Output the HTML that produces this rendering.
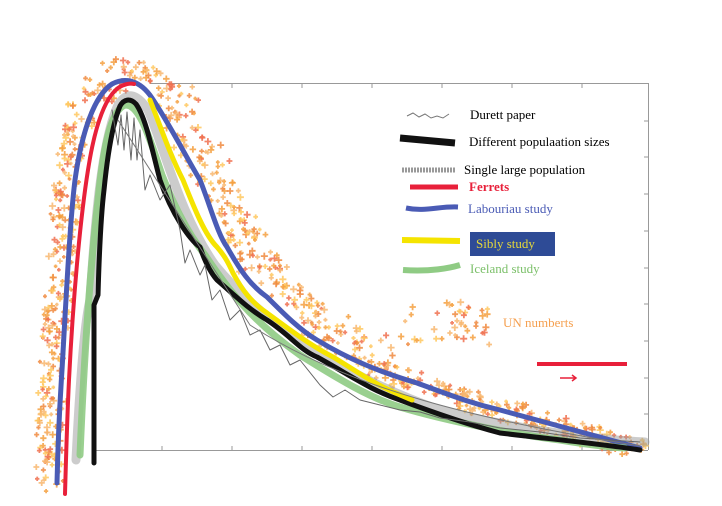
<!DOCTYPE html>
<html><head><meta charset="utf-8"><style>
body{margin:0;background:#fff;}
svg{display:block}
text{font-family:"Liberation Serif",serif;font-size:13px}
</style></head><body>
<svg id="s" width="722" height="506" viewBox="0 0 722 506" xmlns="http://www.w3.org/2000/svg">
<rect width="722" height="506" fill="#fff"/>
<g stroke="#999" stroke-width="1" fill="none">
<line x1="96" y1="450.5" x2="648" y2="450.5"/>
<line x1="150" y1="83.5" x2="648" y2="83.5"/>
<line x1="648.5" y1="83" x2="648.5" y2="450"/>
<path d="M162 450v-4M232 450v-4M302 450v-4M372 450v-4M442 450v-4M512 450v-4M582 450v-4M232 84v4M302 84v4M372 84v4M442 84v4M512 84v4M582 84v4"/>
<path d="M648 121h-4M648 157h-4M648 194h-4M648 231h-4M648 268h-4M648 304h-4M648 341h-4M648 378h-4M648 414h-4"/>
</g>
<g id="scatter"></g>
<g fill="none" stroke-linecap="round" stroke-linejoin="round">
<path d="M76 460 C80 380 85 320 90 300 C95 220 102 140 118 105 C126 92 136 92 148 110 C165 150 180 215 215 265 C260 320 340 375 440 410 C520 430 600 440 645 442" stroke="#999" stroke-width="9" opacity="0.5"/>
<path d="M57 483 C58 440 60 400 62 370 C66 300 70 220 75 180 C82 130 95 95 112 84 C125 77 140 80 152 98 C170 125 185 155 200 180 C210 205 218 235 227 247 C240 270 250 285 267 297 C285 315 300 330 317 340 C350 360 380 372 417 383 C450 395 470 403 500 410 C560 426 610 440 640 448" stroke="#4a5bb5" stroke-width="5"/>
<path d="M65 494 C66 460 67 420 69 380 C73 300 80 220 88 170 C95 125 105 98 118 88 C124 84 130 83 134 84" stroke="#e8203a" stroke-width="4"/>
<path d="M80 455 C84 360 90 270 98 200 C104 140 112 110 125 105 C140 104 150 140 162 175 C172 200 185 230 205 255 C225 285 250 320 300 355 C340 380 370 398 400 407 C450 422 520 435 560 440 C590 445 610 447 625 448" stroke="#8fcb84" stroke-width="7" opacity="0.9"/>
<path d="M94 463 L94 305 L98 295 C99 260 101 215 104 190 C107 160 112 125 120 106 C124 99 130 98 136 104 C146 118 152 150 160 180 C172 215 190 240 200 247 C205 262 210 272 217 280 C240 300 250 310 267 320 C290 335 300 350 317 357 C350 375 370 390 400 400 C440 415 470 425 500 433 C560 440 610 445 640 450" stroke="#111" stroke-width="5"/>
<path d="M150 100 C160 125 170 155 183 180 C195 210 205 235 217 247 C224 255 228 262 233 273 C242 290 252 303 267 313 C290 330 310 345 333 357 C350 367 365 378 383 387 C395 393 405 397 412 400" stroke="#f5e400" stroke-width="5"/>
<path d="M112 110 L118 145 L121 115 L124 150 L127 112 L131 160 L134 118 L137 160 L140 130 L145 190 L150 175 L160 200 L170 185 L180 230 L185 263 L190 250 L200 275 L205 265 L212 300 L220 290 L230 320 L240 310 L250 335 L260 330 L270 350 L280 345 L290 365 L300 360 L320 385 L333 397 L345 390 L360 400 L380 405 L400 410 L420 412 L440 418 L470 422 L500 428 L540 432 L580 438 L640 442" stroke="#666" stroke-width="1"/>
<path d="M118 120 L250 325 C350 390 480 420 640 446" stroke="#777" stroke-width="1"/>
</g>
<path d="M407 116 l6 -3 6 4 6 -3 6 4 6 -2 6 2 6 -4" stroke="#777" fill="none"/>
<text x="470" y="119">Durett paper</text>
<path d="M400 138 L455 143" stroke="#111" stroke-width="7"/>
<text x="469" y="146">Different populaation sizes</text>
<path d="M402 170 L456 170" stroke="#999" stroke-width="5" stroke-dasharray="2 1"/>
<text x="464" y="174">Single large population</text>
<path d="M410 187 L458 187" stroke="#e8203a" stroke-width="5"/>
<text x="469" y="191" fill="#e8203a" font-weight="bold">Ferrets</text>
<path d="M406 208 C425 212 440 206 458 207" stroke="#4a5bb5" stroke-width="5" fill="none"/>
<text x="468" y="213" fill="#4a5bb5">Labouriau study</text>
<path d="M402 240 L460 241" stroke="#f5e400" stroke-width="6"/>
<rect x="470" y="232" width="85" height="24" fill="#2e4b96"/>
<text x="476" y="248" fill="#e6d83a">Sibly study</text>
<path d="M403 270 C430 272 450 268 460 265" stroke="#8fcb84" stroke-width="6" fill="none"/>
<text x="470" y="273" fill="#7cc06a">Iceland study</text>
<g id="leg2"></g>
<text x="503" y="327" fill="#f5a050">UN numberts</text>
<path d="M537 364 L627 364" stroke="#e8203a" stroke-width="4"/>
<path d="M560 378 L576 378 M572 375 L576 378 L572 381" stroke="#e8203a" stroke-width="1.5" fill="none"/>
</svg>
<script>
(function(){
var seed=7;function r(){seed=(seed*16807)%2147483647;return seed/2147483647;}
var cols=["#f5a040","#f08a40","#ffc860","#f07050","#f8b870"];
function pt(x,y,s){var c=cols[Math.floor(r()*cols.length)];var a=s||3;
return '<path d="M'+(x-a).toFixed(1)+' '+y.toFixed(1)+'h'+(2*a).toFixed(1)+'M'+x.toFixed(1)+' '+(y-a).toFixed(1)+'v'+(2*a).toFixed(1)+'" stroke="'+c+'" stroke-width="1.8" opacity="0.85"/>';}
var P=[[57,483],[60,400],[66,300],[75,180],[90,110],[112,84],[130,78],[152,98],[175,140],[200,180],[227,247],[267,297],[317,340],[360,362],[417,383],[500,410],[560,428],[640,448]];
var h="";
for(var i=0;i<P.length-1;i++){var a=P[i],b=P[i+1];var d=Math.hypot(b[0]-a[0],b[1]-a[1]);var n=Math.round(d*0.75);
for(var k=0;k<n;k++){var t=r();var x=a[0]+(b[0]-a[0])*t,y=a[1]+(b[1]-a[1])*t;
var dx,dy;
if(i<4){dx=-r()*28+6;dy=(r()-0.5)*20;}
else if(i<7){dx=(r()-0.5)*40;dy=-r()*30+8;}
else if(i<13){dx=r()*40-5;dy=-r()*30+6;}
else {dx=(r()-0.5)*20;dy=(r()-0.5)*22;}
h+=pt(x+dx,y+dy,1.8+r()*1.8);}}
document.getElementById("scatter").innerHTML=h;
var g="";for(var j=0;j<45;j++){g+=pt(400+r()*90,300+r()*45,1.8+r()*1.8);}
document.getElementById("leg2").innerHTML=g;
})();
</script>
</body></html>
